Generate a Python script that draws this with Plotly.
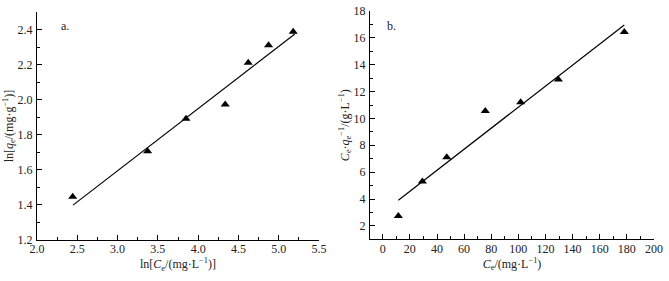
import plotly.graph_objects as go

# Panel a: Freundlich
a_x = [2.443, 3.373, 3.849, 4.336, 4.622, 4.874, 5.18]
a_y = [1.446, 1.706, 1.891, 1.973, 2.211, 2.31, 2.387]
a_fit_x = [2.447, 5.20]
a_fit_y = [1.399, 2.375]

# Panel b: Langmuir
b_x = [11.5, 29.2, 47.2, 75.6, 101.7, 129.5, 178.1]
b_y = [2.74, 5.30, 7.11, 10.56, 11.2, 12.89, 16.43]
b_fit_x = [11.5, 178.1]
b_fit_y = [3.91, 16.96]

FONT = "Liberation Serif"
W, H = 669, 281

fig = go.Figure()
tri = dict(symbol="triangle-up", size=8, color="black")
fig.add_trace(go.Scatter(x=a_fit_x, y=a_fit_y, mode="lines", line=dict(color="black", width=1.2),
                         xaxis="x", yaxis="y", showlegend=False))
fig.add_trace(go.Scatter(x=a_x, y=a_y, mode="markers", marker=tri, xaxis="x", yaxis="y", showlegend=False))
fig.add_trace(go.Scatter(x=b_fit_x, y=b_fit_y, mode="lines", line=dict(color="black", width=1.2),
                         xaxis="x2", yaxis="y2", showlegend=False))
fig.add_trace(go.Scatter(x=b_x, y=b_y, mode="markers", marker=tri, xaxis="x2", yaxis="y2", showlegend=False))

def ax(**kw):
    base = dict(showline=True, linecolor="black", linewidth=1, showgrid=False, zeroline=False,
                automargin=False,
                ticks="inside", ticklen=5, tickcolor="black", tickwidth=1,
                tickfont=dict(family=FONT, size=12, color="#222"),
                title_font=dict(family=FONT, size=12, color="#222"))
    base.update(kw)
    return base

fig.update_layout(
    width=W, height=H, margin=dict(l=0, r=0, t=0, b=0, autoexpand=False),
    plot_bgcolor="white", paper_bgcolor="white",
    xaxis=ax(domain=[37/W, 319/W], range=[2.0, 5.5], dtick=0.5, tick0=2.0, tickformat=".1f",
             minor=dict(ticks="inside", dtick=0.25, ticklen=3, tickcolor="black"),
             ticklabelstandoff=-2,
             title=dict(text="ln[<i>C</i><sub>e</sub>/(mg·L<sup>−1</sup>)]", standoff=0),
             anchor="y"),
    yaxis=ax(domain=[1-240/H, 1-12/H], range=[1.2, 2.5], dtick=0.2, tick0=1.2, tickformat=".1f",
             minor=dict(ticks="inside", dtick=0.1, ticklen=3, tickcolor="black"),
             ticklabelstandoff=1,
             title=dict(text="ln[<i>q</i><sub>e</sub>/(mg·g<sup>−1</sup>)]", standoff=1),
             anchor="x"),
    xaxis2=ax(domain=[370/W, 654/W], range=[-9.4, 200], dtick=20, tick0=0,
              minor=dict(ticks="inside", dtick=10, ticklen=3, tickcolor="black"),
              ticklabelstandoff=-2,
              title=dict(text="<i>C</i><sub>e</sub>/(mg·L<sup>−1</sup>)", standoff=0),
              anchor="y2"),
    yaxis2=ax(domain=[1-239.3/H, 1-11/H], range=[1.0, 18], dtick=2, tick0=0,
              minor=dict(ticks="inside", dtick=1, ticklen=3, tickcolor="black"),
              ticklabelstandoff=1,
              title=dict(text="<i>C</i><sub>e</sub>·<i>q</i><sub>e</sub><sup>−1</sup>/(g·L<sup>−1</sup>)", standoff=1),
              anchor="x2"),
    annotations=[
        dict(text="a.", x=59/W, y=1-17/H, xref="paper", yref="paper", showarrow=False,
             font=dict(family=FONT, size=12, color="#222")),
        dict(text="b.", x=391/W, y=1-17/H, xref="paper", yref="paper", showarrow=False,
             font=dict(family=FONT, size=12, color="#222")),
    ],
)

fig.write_html("out.html", config={"displayModeBar": False},
               post_script="document.body.style.margin='0';document.body.style.overflow='hidden';")
